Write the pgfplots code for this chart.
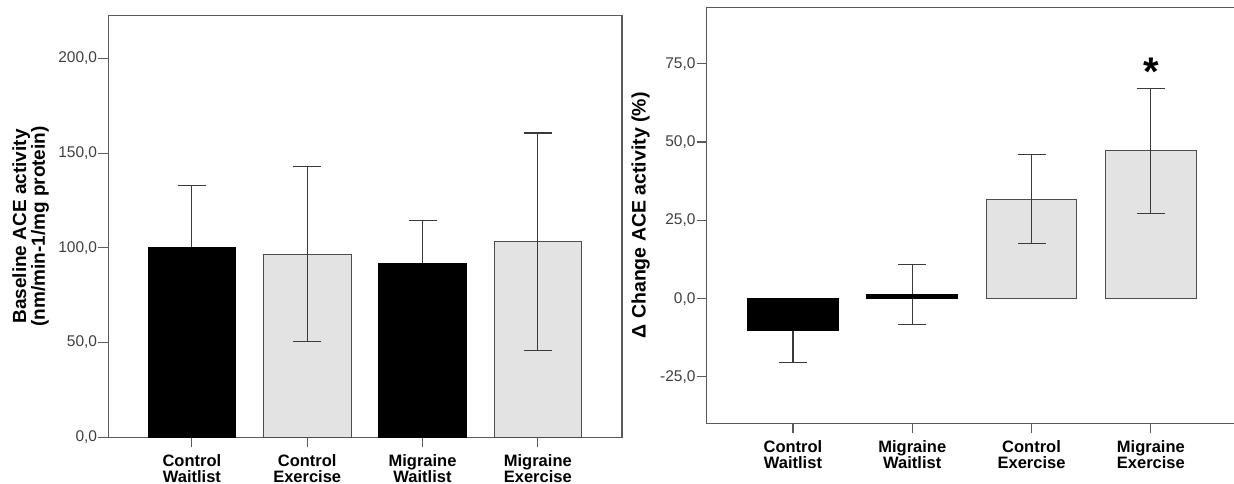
\documentclass[border=0pt]{standalone}
\usepackage{pgfplots}
\pgfplotsset{compat=1.18}
\usepackage{pgfplotstable}
\usepackage{fontspec}
\setmainfont{Liberation Sans}
\definecolor{axisgray}{HTML}{5A5A5A}
\definecolor{ticktext}{HTML}{404040}
\definecolor{barlight}{HTML}{E3E3E3}
\definecolor{baredge}{HTML}{4D4D4D}
\definecolor{errgray}{HTML}{3A3A3A}

% left panel
\pgfplotstableread{
x y e
0 100.0 32.8
2 91.6 22.9
}\leftblack
\pgfplotstableread{
x y e
1 96.6 46.2
3 103.2 57.4
}\leftgray
% right panel
\pgfplotstableread{
x y e
0 -10.1 10.2
1 1.2 9.6
}\rightblack
\pgfplotstableread{
x y e
2 31.8 14.1
3 47.15 19.85
}\rightgray

\pgfplotsset{
  panel/.style={
    scale only axis,
    anchor=south west,
    axis line style={axisgray, line width=1.1pt},
    tick style={axisgray, line width=1.1pt},
    tick align=outside,
    major tick length=10pt,
    xtick pos=bottom, ytick pos=left,
    ybar, bar width=0.76, bar shift=0pt,
    xtick={0,1,2,3},
    /pgf/number format/assume math mode=true,
    /pgf/number format/.cd, use comma, fixed, fixed zerofill, precision=1,
    /pgfplots/.cd,
    yticklabel style={font=\fontsize{15.5}{15.5}\selectfont, text=ticktext, inner sep=1pt},
    xticklabel style={font=\fontsize{16.5}{15.8}\selectfont\bfseries, text=black, align=center, inner sep=2pt, yshift=-5pt},
    error bars/error bar style={errgray, line width=1.1pt},
    error bars/error mark options={rotate=90, mark size=14pt, errgray, line width=1.1pt},
  },
  errs/.style={error bars/.cd, y dir=both, y explicit},
}

\begin{document}
\begin{tikzpicture}[x=1pt,y=1pt]
% ---------- left panel ----------
\begin{axis}[panel,
  at={(108.3pt,46.7pt)},
  width=513.7pt, height=421.6pt,
  xmin=-0.725, xmax=3.73,
  ymin=0, ymax=222.5,
  ytick={0,50,100,150,200},
  xticklabels={{Control\\Waitlist},{Control\\Exercise},{Migraine\\Waitlist},{Migraine\\Exercise}},
  ylabel={Baseline ACE activity\\(nm/min-1/mg protein)},
  ylabel style={at={(axis description cs:-0.1514,0.5)}, anchor=center, rotate=0,
    align=center, font=\fontsize{19}{17.5}\selectfont\bfseries, inner sep=0pt},
]
\addplot[draw=none, fill=none, errs] table[x=x, y=y, y error=e] {\leftblack};
\addplot[fill=black, draw=black, line width=1pt] table[x=x, y=y] {\leftblack};
\addplot[fill=barlight, draw=baredge, line width=1pt, errs] table[x=x, y=y, y error=e] {\leftgray};
\end{axis}
% ---------- right panel ----------
\begin{axis}[panel,
  at={(706.7pt,60.7pt)},
  width=530.4pt, height=416pt,
  xmin=-0.723, xmax=3.723,
  ymin=-39.8, ymax=93,
  ytick={-25,0,25,50,75},
  xticklabels={{Control\\Waitlist},{Migraine\\Waitlist},{Control\\Exercise},{Migraine\\Exercise}},
  ylabel={Δ Change ACE activity (\%)},
  ylabel style={at={(axis description cs:-0.1248,0.5)}, anchor=center, rotate=0,
    font=\fontsize{19.5}{17}\selectfont\bfseries, inner sep=0pt},
]
\addplot[draw=none, fill=none, errs] table[x=x, y=y, y error=e] {\rightblack};
\addplot[fill=black, draw=black, line width=1pt] table[x=x, y=y] {\rightblack};
\addplot[fill=barlight, draw=baredge, line width=1pt, errs] table[x=x, y=y, y error=e] {\rightgray};
\node[font=\fontsize{40}{40}\selectfont\bfseries, yshift=-6pt] at (axis cs:3,74.3) {*};
\end{axis}
\pgfresetboundingbox
\useasboundingbox (0,0) rectangle (1234,484);
\end{tikzpicture}
\end{document}
